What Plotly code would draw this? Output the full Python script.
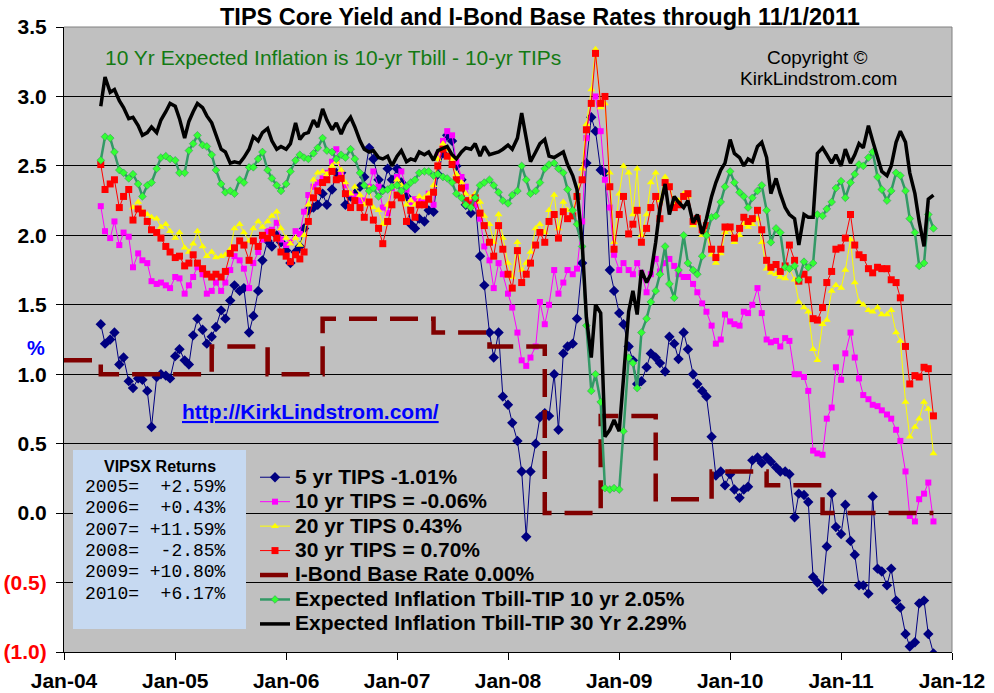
import plotly.graph_objects as go

# ---------------- data (semi-monthly readings, May 2004 .. Nov 1 2011) ----------------
dates = []
for yr in range(2004, 2012):
    for mo in range(1, 13):
        for dy in (1, 15):
            s = f"{yr}-{mo:02d}-{dy:02d}"
            if "2004-05-01" <= s <= "2011-11-01":
                dates.append(s)

tips5 = [1.36, 1.22, 1.25, 1.30, 1.07, 1.12, 0.95, 0.90, 0.97, 0.96,
         0.88, 0.62, 0.98, 1.00, 0.99, 0.97, 1.13, 1.18, 1.10, 1.07,
         1.28, 1.40, 1.32, 1.22, 1.27, 1.34, 1.46, 1.40, 1.53, 1.64,
         1.60, 1.62, 1.30, 1.42, 1.60, 1.82, 1.96, 1.92, 2.00, 1.95,
         1.89, 1.80, 1.88, 1.92, 2.05, 2.18, 2.20, 2.22, 2.30, 2.22,
         2.33, 2.45, 2.45, 2.22, 2.28, 2.30, 2.35, 2.42, 2.63, 2.55,
         2.40, 2.33, 2.48, 2.40, 2.48, 2.38, 2.28, 2.08, 2.05, 2.12,
         2.10, 2.18, 2.17, 2.44, 2.59, 2.72, 2.68, 2.50, 2.40, 2.22,
         2.16, 2.25, 1.85, 1.64, 1.30, 1.12, 1.30, 0.84, 0.78, 0.65,
         0.52, 0.30, -0.17, 0.30, 0.50, 0.69, 0.72, 0.70, 1.00, 0.60,
         1.15, 1.20, 1.22, 1.40, 1.80, 2.52, 2.85, 2.75, 2.47, 2.45,
         1.75, 1.60, 1.44, 1.36, 1.20, 1.10, 0.93, 0.95, 1.05, 1.15,
         1.12, 1.08, 1.02, 1.27, 1.22, 1.11, 1.30, 1.18, 1.00, 0.93,
         0.88, 0.84, 0.55, 0.27, 0.30, 0.20, 0.28, 0.17, 0.11, 0.17,
         0.19, 0.38, 0.40, 0.36, 0.40, 0.37, 0.33, 0.30, 0.30, 0.28,
         -0.03, 0.14, 0.13, 0.08, -0.46, -0.50, -0.55, -0.24, 0.14, -0.10,
         -0.15, 0.06, -0.20, -0.30, -0.52, -0.52, -0.58, 0.12, -0.40, -0.42,
         -0.52, -0.40, -0.63, -0.68, -0.87, -0.96, -0.93, -0.65, -0.63, -0.87, -1.01]

tips10 = [2.21, 2.03, 1.98, 2.10, 1.93, 2.02, 1.99, 1.77, 1.87, 1.82,
          1.80, 1.67, 1.65, 1.66, 1.64, 1.62, 1.70, 1.69, 1.58, 1.64,
          1.70, 1.77, 1.72, 1.58, 1.60, 1.66, 1.60, 1.66, 1.75, 1.85,
          1.82, 1.76, 1.62, 1.80, 1.88, 1.97, 2.03, 2.04, 2.09, 1.97,
          1.93, 1.95, 2.03, 2.01, 2.17, 2.29, 2.35, 2.38, 2.41, 2.45,
          2.53, 2.62, 2.45, 2.36, 2.30, 2.28, 2.25, 2.25, 2.35, 2.46,
          2.35, 2.20, 2.16, 2.34, 2.42, 2.46, 2.33, 2.24, 2.26, 2.26,
          2.25, 2.30, 2.22, 2.58, 2.68, 2.75, 2.72, 2.53, 2.42, 2.35,
          2.24, 2.22, 2.12, 1.92, 1.82, 1.62, 1.80, 1.72, 1.58, 1.48,
          1.30, 1.10, 1.06, 1.12, 1.20, 1.52, 1.36, 1.50, 1.75, 1.58,
          1.66, 1.75, 1.72, 1.76, 2.10, 2.70, 2.95, 3.00, 2.75, 2.40,
          2.20, 1.86, 1.75, 1.80, 1.75, 1.72, 1.80, 1.73, 1.59, 1.72,
          1.83, 1.74, 1.80, 1.83, 1.78, 1.72, 1.70, 1.70, 1.65, 1.59,
          1.51, 1.45, 1.35, 1.22, 1.25, 1.43, 1.38, 1.36, 1.35, 1.45,
          1.44, 1.50, 1.62, 1.44, 1.25, 1.23, 1.24, 1.20, 1.26, 1.24,
          1.00, 1.00, 0.98, 0.88, 0.45, 0.43, 0.42, 0.68, 0.76, 1.05,
          0.96, 1.15, 1.30, 1.12, 0.97, 0.85, 0.82, 0.78, 0.77, 0.74,
          0.71, 0.68, 0.60, 0.52, 0.30, -0.02, -0.06, 0.10, 0.14, 0.22, -0.06]

tips20 = [None, None, None, None, None, None, None, 2.20, 2.24, 2.17,
          2.15, 2.13, 2.12, 2.06, 2.08, 2.03, 1.98, 2.02, 1.91, 1.88,
          1.94, 2.03, 1.92, 1.85, 1.88, 1.84, 1.85, 1.86, 1.90, 2.05,
          2.08, 2.02, 1.96, 2.05, 2.10, 2.06, 2.10, 2.14, 2.17, 2.05,
          1.98, 1.94, 1.98, 1.93, 2.00, 2.22, 2.40, 2.45, 2.46, 2.44,
          2.50, 2.53, 2.47, 2.38, 2.30, 2.35, 2.29, 2.22, 2.34, 2.20,
          2.18, 2.08, 2.22, 2.35, 2.40, 2.36, 2.22, 2.25, 2.22, 2.28,
          2.27, 2.30, 2.36, 2.55, 2.66, 2.62, 2.55, 2.44, 2.38, 2.30,
          2.27, 2.30, 2.24, 2.14, 2.08, 1.95, 2.15, 1.98, 1.80, 1.70,
          1.95, 1.75, 1.80, 1.88, 2.05, 2.08, 2.02, 2.18, 2.29, 2.05,
          2.24, 2.18, 2.16, 2.30, 2.48, 2.80, 3.05, 3.34, 2.92, 2.95,
          2.45, 1.95, 2.30, 2.50, 2.45, 2.15, 2.48, 2.00, 2.15, 2.38,
          2.45, 2.25, 2.42, 2.36, 2.22, 2.25, 2.30, 2.28, 2.07, 2.10,
          2.00, 2.02, 1.86, 1.80, 1.87, 2.02, 2.04, 1.95, 2.00, 2.08,
          2.06, 2.08, 2.12, 1.95, 1.76, 1.73, 1.72, 1.70, 1.69, 1.76,
          1.68, 1.52, 1.48, 1.45, 1.18, 1.10, 1.36, 1.39, 1.60, 1.64,
          1.62, 1.75, 1.97, 1.66, 1.52, 1.50, 1.46, 1.45, 1.48, 1.43,
          1.43, 1.46, 1.30, 1.24, 0.80, 0.55, 0.62, 0.68, 0.80, 0.75, 0.43]

tips30 = [2.51, 2.33, 2.37, 2.40, 2.20, 2.28, 2.33, 2.11, 2.19, 2.16,
          2.10, 2.04, 2.02, 1.98, 1.92, 1.88, 1.84, 1.85, 1.78, 1.80,
          1.86, 1.80, 1.76, 1.72, 1.70, 1.72, 1.70, 1.74, 1.87, 1.91,
          1.96, 1.93, 1.82, 1.96, 1.92, 2.00, 1.98, 2.02, 1.98, 1.88,
          1.85, 1.81, 1.86, 1.83, 1.88, 2.10, 2.27, 2.32, 2.38, 2.40,
          2.46, 2.40, 2.41, 2.30, 2.20, 2.25, 2.20, 2.13, 2.24, 2.11,
          2.05, 1.94, 2.10, 2.22, 2.29, 2.27, 2.10, 2.18, 2.13, 2.22,
          2.22, 2.26, 2.31, 2.50, 2.62, 2.57, 2.51, 2.40, 2.34, 2.25,
          2.22, 2.27, 2.16, 2.07, 1.95, 1.85, 2.07, 1.90, 1.72, 1.62,
          1.89, 1.66, 1.72, 1.80, 1.93, 2.02, 1.95, 2.10, 2.15, 1.98,
          2.17, 2.12, 2.14, 2.28, 2.40, 2.76, 2.95, 3.31, 2.95, 3.00,
          2.35, 1.90, 2.15, 2.28, 2.01, 2.08, 2.18, 1.95, 2.05, 2.20,
          2.28, 2.12, 2.38, 2.35, 2.20, 2.22, 2.28, 2.30, 2.10, 2.12,
          2.04, 2.07, 1.90, 1.84, 1.90, 2.06, 2.06, 1.98, 2.05, 2.13,
          2.10, 2.12, 2.18, 2.04, 1.82, 1.77, 1.79, 1.74, 1.78, 1.93,
          1.82, 1.67, 1.72, 1.68, 1.40, 1.39, 1.48, 1.66, 1.74, 1.90,
          1.91, 1.98, 2.15, 1.93, 1.86, 1.84, 1.76, 1.73, 1.77, 1.76,
          1.76, 1.68, 1.66, 1.55, 1.20, 0.93, 0.99, 0.98, 1.05, 1.04, 0.70]

exp10 = [2.54, 2.71, 2.70, 2.60, 2.47, 2.45, 2.41, 2.44, 2.37, 2.28,
         2.36, 2.38, 2.48, 2.56, 2.57, 2.55, 2.54, 2.45, 2.45, 2.61,
         2.66, 2.72, 2.65, 2.64, 2.58, 2.47, 2.37, 2.31, 2.32, 2.30,
         2.40, 2.38, 2.49, 2.49, 2.55, 2.60, 2.47, 2.41, 2.36, 2.32,
         2.37, 2.46, 2.54, 2.58, 2.56, 2.55, 2.59, 2.63, 2.70, 2.61,
         2.60, 2.55, 2.58, 2.56, 2.62, 2.55, 2.45, 2.36, 2.32, 2.34,
         2.28, 2.32, 2.33, 2.35, 2.36, 2.32, 2.35, 2.38, 2.40, 2.45,
         2.46, 2.46, 2.43, 2.44, 2.42, 2.41, 2.38, 2.30, 2.27, 2.22,
         2.20, 2.27, 2.36, 2.38, 2.40, 2.36, 2.31, 2.25, 2.23, 2.29,
         2.32, 2.50, 2.40, 2.30, 2.32, 2.38, 2.48, 2.51, 2.52, 2.48,
         2.45, 2.33, 2.18, 2.08, 1.92, 1.35, 0.88, 1.00, 0.80, 0.18,
         0.17, 0.18, 0.17, 0.59, 1.12, 1.08, 0.90, 1.30, 1.40, 1.52,
         1.60, 1.72, 1.92, 1.65, 1.55, 1.75, 2.00, 1.80, 1.75, 1.72,
         1.85, 2.00, 2.13, 2.14, 2.24, 2.35, 2.46, 2.38, 2.31, 2.28,
         2.20, 2.27, 2.32, 2.36, 2.18, 1.95, 2.05, 2.02, 1.77, 1.76,
         1.78, 1.68, 1.81, 1.77, 1.80, 2.15, 2.14, 2.19, 2.24, 2.34,
         2.39, 2.27, 2.38, 2.44, 2.51, 2.50, 2.56, 2.60, 2.42, 2.33,
         2.25, 2.32, 2.45, 2.43, 2.32, 2.12, 2.02, 1.78, 1.80, 2.15, 2.05]

exp30 = [2.93, 3.14, 3.03, 3.05, 2.97, 2.92, 2.84, 2.85, 2.79, 2.72,
         2.74, 2.78, 2.74, 2.83, 2.89, 2.95, 2.93, 2.84, 2.70, 2.82,
         2.89, 2.95, 2.92, 2.86, 2.81, 2.72, 2.62, 2.60, 2.52, 2.53,
         2.52, 2.56, 2.62, 2.71, 2.68, 2.74, 2.77, 2.68, 2.62, 2.64,
         2.62, 2.66, 2.81, 2.69, 2.73, 2.74, 2.83, 2.78, 2.91, 2.83,
         2.76, 2.81, 2.73, 2.80, 2.85, 2.78, 2.68, 2.62, 2.60, 2.61,
         2.56, 2.55, 2.57, 2.50, 2.57, 2.61, 2.53, 2.55, 2.54, 2.60,
         2.58, 2.60, 2.54, 2.61, 2.63, 2.64, 2.58, 2.55, 2.60, 2.63,
         2.62, 2.66, 2.57, 2.64, 2.58, 2.59, 2.60, 2.62, 2.65, 2.62,
         2.70, 2.88, 2.69, 2.53, 2.60, 2.66, 2.69, 2.57, 2.56, 2.58,
         2.60, 2.51, 2.43, 2.33, 1.95, 1.41, 1.12, 1.50, 1.44, 0.55,
         0.60, 0.67, 0.59, 0.97, 1.45, 1.60, 1.43, 1.75, 1.66, 1.72,
         1.95, 2.20, 2.37, 2.15, 2.28, 2.24, 2.20, 2.25, 2.09, 2.15,
         2.01, 2.12, 2.28, 2.38, 2.47, 2.52, 2.69, 2.59, 2.56, 2.50,
         2.55, 2.53, 2.64, 2.67, 2.56, 2.30, 2.41, 2.30, 2.20, 2.15,
         2.12, 1.93, 2.15, 2.13, 2.13, 2.59, 2.63, 2.58, 2.52, 2.58,
         2.50, 2.62, 2.52, 2.58, 2.66, 2.63, 2.79, 2.68, 2.57, 2.46,
         2.43, 2.50, 2.67, 2.75, 2.67, 2.45, 2.30, 2.10, 1.92, 2.26, 2.29]

ibond_dates = ["2004-01-01", "2004-05-01", "2005-05-01", "2005-11-01", "2006-05-01",
               "2007-05-01", "2007-11-01", "2008-05-01", "2008-11-01", "2009-05-01",
               "2009-11-01", "2010-05-01", "2010-11-01", "2011-11-01"]
ibond = [1.1, 1.0, 1.2, 1.0, 1.4, 1.3, 1.2, 0.0, 0.7, 0.1, 0.3, 0.2, 0.0, 0.0]

names = ["5 yr TIPS -1.01%", "10 yr TIPS = -0.06%", "20 yr TIPS 0.43%",
         "30 yr TIPS = 0.70%", "I-Bond Base Rate 0.00%",
         "Expected Inflation Tbill-TIP 10 yr 2.05%",
         "Expected Inflation Tbill-TIP 30 Yr 2.29%"]

x_tick_vals = [f"{y}-01-01" for y in range(2004, 2013)]
x_tick_text = ["Jan-04", "Jan-05", "Jan-06", "Jan-07", "Jan-08", "Jan-09",
               "Jan-10", "Jan-11", "Jan-12"]
y_tick_vals = [-1.0, -0.5, 0.0, 0.5, 1.0, 1.5, 2.0, 2.5, 3.0, 3.5]
y_tick_text = ["<span style='color:#FF0000'>(1.0)</span>",
               "<span style='color:#FF0000'>(0.5)</span>",
               "0.0", "0.5", "1.0", "1.5", "2.0", "2.5", "3.0", "3.5"]

vipsx_years = ["2005", "2006", "2007", "2008", "2009", "2010"]
vipsx_returns = ["+2.59%", "+0.43%", "+11.59%", "-2.85%", "+10.80%", "+6.17%"]

for arr in (tips5, tips10, tips20, tips30, exp10, exp30):
    assert len(arr) == len(dates), (len(arr), len(dates))

# ---------------- figure ----------------
FONT = "Liberation Sans, Arial, sans-serif"
fig = go.Figure()

def lg(name):
    # larger legend text while keeping the compact row pitch of the original
    return "<span style='font-size:21px'>" + name + "</span>"

fig.add_trace(go.Scatter(x=dates, y=tips5, name=lg(names[0]), mode="lines+markers",
                         line=dict(color="#000080", width=1),
                         marker=dict(symbol="diamond", size=8, color="#000080")))
fig.add_trace(go.Scatter(x=dates, y=tips10, name=lg(names[1]), mode="lines+markers",
                         line=dict(color="#FF00FF", width=1),
                         marker=dict(symbol="square", size=6, color="#FF00FF")))
fig.add_trace(go.Scatter(x=dates, y=tips20, name=lg(names[2]), mode="lines+markers",
                         line=dict(color="#FFFF00", width=1),
                         marker=dict(symbol="triangle-up", size=7, color="#FFFF00")))
fig.add_trace(go.Scatter(x=dates, y=tips30, name=lg(names[3]), mode="lines+markers",
                         line=dict(color="#FF0000", width=1),
                         marker=dict(symbol="square", size=7, color="#FF0000")))
fig.add_trace(go.Scatter(x=ibond_dates, y=ibond, name=lg(names[4]), mode="lines",
                         line=dict(color="#800000", width=4.5, dash="28px,13px", shape="hv")))
fig.add_trace(go.Scatter(x=dates, y=exp10, name=lg(names[5]), mode="lines+markers",
                         line=dict(color="#339966", width=2.5),
                         marker=dict(symbol="diamond", size=6, color="#33FF33",
                                     line=dict(color="#2E8B57", width=0.5))))
fig.add_trace(go.Scatter(x=dates, y=exp30, name=lg(names[6]), mode="lines",
                         line=dict(color="#000000", width=3.5)))

def px(x):
    return (x - 64) / 888.0

def py(y):
    return (652 - y) / 625.0

ann = []
ann.append(dict(text="<b>TIPS Core Yield and I-Bond Base Rates through 11/1/2011</b>",
                x=px(540), y=py(17), xanchor="center", yanchor="middle",
                font=dict(family=FONT, size=23.5, color="#000000")))
ann.append(dict(text="10 Yr Expected Inflation is 10-yr Tbill - 10-yr TIPs",
                x=px(103), y=py(57), xanchor="left", yanchor="middle",
                font=dict(family=FONT, size=21, color="#137A13")))
ann.append(dict(text="Copyright ©", x=px(817), y=py(58), xanchor="center", yanchor="middle",
                font=dict(family=FONT, size=19, color="#000000")))
ann.append(dict(text="KirkLindstrom.com", x=px(818), y=py(78), xanchor="center", yanchor="middle",
                font=dict(family=FONT, size=19, color="#000000")))
ann.append(dict(text="<b><u>http://KirkLindstrom.com/</u></b>", x=px(180), y=py(411),
                xanchor="left", yanchor="middle",
                font=dict(family=FONT, size=21, color="#0000FF")))
ann.append(dict(text="<b>%</b>", x=px(36), y=py(348), xanchor="center", yanchor="middle",
                font=dict(family=FONT, size=20, color="#0000FF")))
ann.append(dict(text="<b>VIPSX Returns</b>", x=px(160), y=py(466), xanchor="center",
                yanchor="middle", font=dict(family=FONT, size=16, color="#000000")))
for k, (yy, rr) in enumerate(zip(vipsx_years, vipsx_returns)):
    line = (yy + "=" + rr.rjust(8)).replace(" ", "\u00a0")
    ann.append(dict(text=line, x=px(83), y=py(487 + 21.3 * k), xanchor="left",
                    yanchor="middle",
                    font=dict(family="Liberation Mono, Courier New, monospace", size=18,
                              color="#000000")))
for a in ann:
    a.update(xref="paper", yref="paper", showarrow=False)

shapes = [
    dict(type="rect", xref="paper", yref="paper", x0=px(73), x1=px(246), y0=py(629), y1=py(450),
         fillcolor="#C6D9F1", line=dict(width=0), layer="above"),
    dict(type="line", xref="paper", yref="paper", x0=0, x1=1, y0=1, y1=1,
         line=dict(color="#808080", width=1)),
    dict(type="line", xref="paper", yref="paper", x0=1, x1=1, y0=0, y1=1,
         line=dict(color="#808080", width=1)),
]

fig.update_layout(
    width=994, height=693,
    margin=dict(l=64, r=42, t=27, b=41, autoexpand=False),
    paper_bgcolor="#FFFFFF", plot_bgcolor="#C0C0C0",
    showlegend=True,
    legend=dict(x=px(255), y=py(460), xanchor="left", yanchor="top",
                bgcolor="rgba(0,0,0,0)", borderwidth=0, tracegroupgap=0,
                font=dict(family=FONT, size=16.5, color="#000000", weight="bold"),
                itemwidth=30),
    annotations=ann, shapes=shapes,
    xaxis=dict(type="date", range=["2004-01-01", "2012-01-01"], automargin=False,
               tickvals=x_tick_vals, ticktext=x_tick_text,
               showgrid=False, zeroline=False, showline=True, linecolor="#000000", linewidth=1,
               ticks="outside", ticklen=7, tickcolor="#000000", ticklabelstandoff=3,
               tickfont=dict(family=FONT, size=21, color="#000000", weight="bold")),
    yaxis=dict(range=[-1.0, 3.5], tickvals=y_tick_vals, ticktext=y_tick_text, automargin=False,
               showgrid=True, gridcolor="#000000", gridwidth=1, zeroline=False,
               showline=True, linecolor="#000000", linewidth=1,
               ticks="outside", ticklen=7, tickcolor="#000000", ticklabelstandoff=5,
               tickfont=dict(family=FONT, size=21, color="#000000", weight="bold")),
)

fig.write_html("out.html")
